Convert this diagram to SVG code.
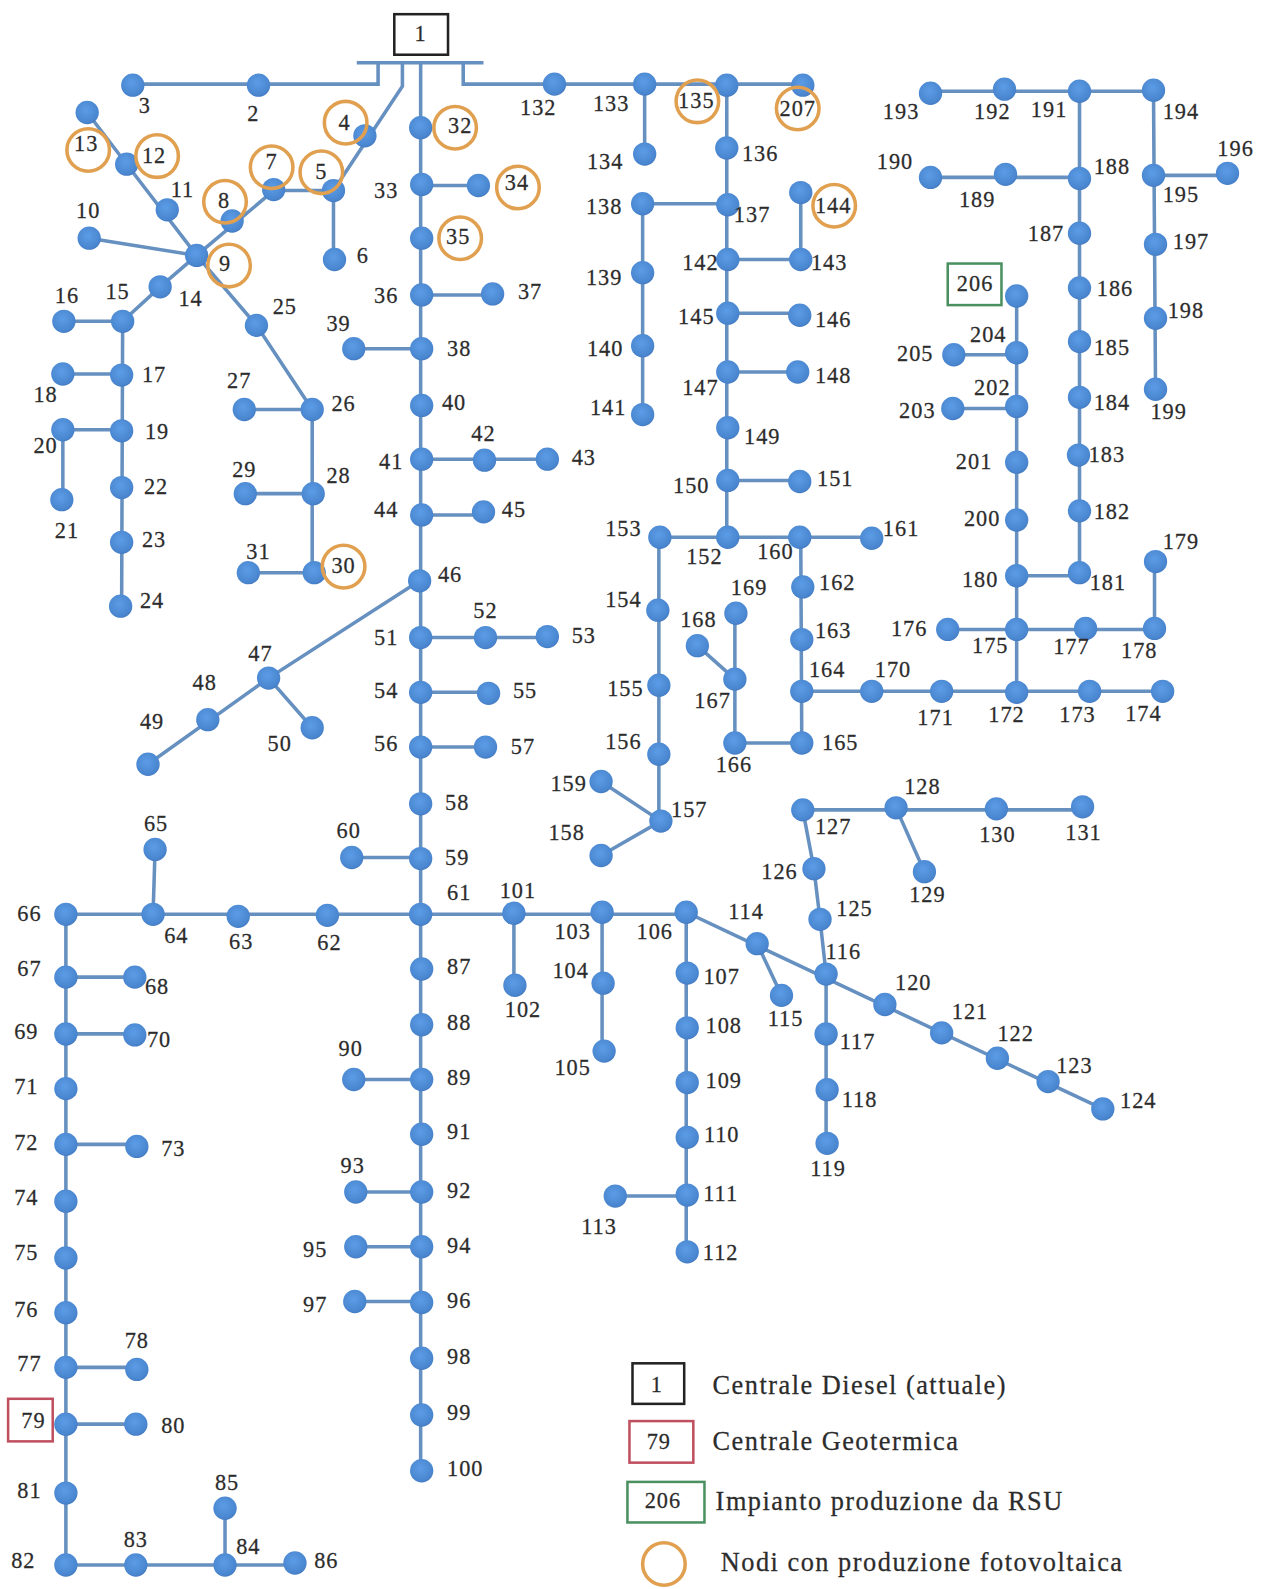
<svg xmlns="http://www.w3.org/2000/svg" width="1265" height="1589" viewBox="0 0 1265 1589">
<style>
text{font-family:"Liberation Serif","DejaVu Serif",serif;font-size:22px;fill:#2c2c2c;stroke:#2c2c2c;stroke-width:.25;text-anchor:middle;letter-spacing:1px}
.n circle{r:11.5px;fill:url(#b)}
.n circle.pv,circle.pv{fill:none;stroke:#e0a050;stroke-width:3.5;r:21px}
.box{fill:#fff;stroke-width:2.5}
.lg{text-anchor:start;font-size:26px;letter-spacing:0}
#edges path{fill:none;stroke:#6690c0;stroke-width:3.5}
</style>
<defs><radialGradient id="b" cx=".45" cy=".4" r=".65"><stop offset="0" stop-color="#5c9ce6"/><stop offset=".8" stop-color="#4a86d0"/><stop offset="1" stop-color="#3f74b8"/></radialGradient></defs>
<rect width="1265" height="1589" fill="#fff"/>
<g transform="scale(1.01362)">
<g id="edges"><path d="M352 62H477M373 62V83H131M457 62V83H792M415 62V1451M397 62V85L329 188M329 188V256M329 188H270L194 252M88 235L194 252M86 111L125 162L194 252L253 321L308 404M194 252L158 283L121 317M63 317H121M121 317L120 598M62 369H120M62 424H120M62 424V493M241 404H308M308 404V565M242 487H309M245 565H310M416 183H472M416 291H486M349 344H416M416 453H540M416 508H477M414 573L265 669L146 754M265 669L308 718M415 629H540M415 683H482M415 737H479M347 846H415M65 902H677M153 838L151 902M65 902V1544M65 964H133M65 1020H133M65 1129H135M65 1349H135M65 1405H134M65 1544H291M222 1488V1544M349 1065H416M351 1176H416M351 1230H416M350 1284H416M507 901V972M594 900V1037M677 900V1235M607 1180H678M677 900L1088 1094M747 931L771 982M815 961V1128M815 961L809 907L803 857L792 799M792 799H1068M884 797L912 860M636 83V152M717 84V530M634 201H718M634 201V409M718 256H790M790 190V256M718 309H789M718 367H787M718 474H789M651 530H860M650 530V810M593 771L652 810L593 844M790 530L791 733H725V605M725 670L688 637M791 682H1147M1003 292V683M941 350H1003M940 403H1003M935 621H1139M1139 620V554M1003 568H1065M1065 90V565M918 90H1138M918 175H1065M1138 89L1140 384M1138 173H1211"/></g>
<g id="plant1"><rect class="box" x="389" y="14" width="53" height="40" stroke="#222"/><text x="415" y="40">1</text></g>
<g id="plant79"><rect class="box" x="8" y="1380" width="44" height="42" stroke="#c05060"/></g>
<g id="plant206"><rect class="box" x="935" y="260" width="53" height="41" stroke="#4a9060"/></g>
<g id="n2" class="n"><circle cx="255" cy="84"/><text x="250" y="119">2</text></g>
<g id="n3" class="n"><circle cx="131" cy="84"/><text x="143" y="111">3</text></g>
<g id="n4" class="n"><circle cx="360" cy="134"/><text x="340" y="128">4</text><circle class="pv" cx="341" cy="121"/></g>
<g id="n5" class="n"><circle cx="329" cy="188"/><text x="317" y="177">5</text><circle class="pv" cx="317" cy="170"/></g>
<g id="n6" class="n"><circle cx="330" cy="256"/><text x="358" y="259">6</text></g>
<g id="n7" class="n"><circle cx="270" cy="187"/><text x="268" y="167">7</text><circle class="pv" cx="268" cy="165"/></g>
<g id="n8" class="n"><circle cx="229" cy="218"/><text x="221" y="205">8</text><circle class="pv" cx="222" cy="199"/></g>
<g id="n9" class="n"><circle cx="194" cy="252"/><text x="222" y="267">9</text><circle class="pv" cx="226" cy="262"/></g>
<g id="n10" class="n"><circle cx="88" cy="235"/><text x="87" y="215">10</text></g>
<g id="n11" class="n"><circle cx="165" cy="207"/><text x="180" y="194">11</text></g>
<g id="n12" class="n"><circle cx="125" cy="162"/><text x="152" y="161">12</text><circle class="pv" cx="155" cy="154"/></g>
<g id="n13" class="n"><circle cx="86" cy="111"/><text x="85" y="149">13</text><circle class="pv" cx="87" cy="148"/></g>
<g id="n14" class="n"><circle cx="158" cy="283"/><text x="188" y="302">14</text></g>
<g id="n15" class="n"><circle cx="121" cy="317"/><text x="116" y="295">15</text></g>
<g id="n16" class="n"><circle cx="63" cy="317"/><text x="66" y="299">16</text></g>
<g id="n17" class="n"><circle cx="120" cy="370"/><text x="152" y="377">17</text></g>
<g id="n18" class="n"><circle cx="62" cy="369"/><text x="45" y="397">18</text></g>
<g id="n19" class="n"><circle cx="120" cy="425"/><text x="155" y="433">19</text></g>
<g id="n20" class="n"><circle cx="62" cy="424"/><text x="45" y="447">20</text></g>
<g id="n21" class="n"><circle cx="61" cy="493"/><text x="66" y="531">21</text></g>
<g id="n22" class="n"><circle cx="120" cy="481"/><text x="154" y="487">22</text></g>
<g id="n23" class="n"><circle cx="120" cy="535"/><text x="152" y="540">23</text></g>
<g id="n24" class="n"><circle cx="119" cy="598"/><text x="150" y="600">24</text></g>
<g id="n25" class="n"><circle cx="253" cy="321"/><text x="281" y="310">25</text></g>
<g id="n26" class="n"><circle cx="308" cy="404"/><text x="339" y="405">26</text></g>
<g id="n27" class="n"><circle cx="241" cy="404"/><text x="236" y="383">27</text></g>
<g id="n28" class="n"><circle cx="309" cy="487"/><text x="334" y="477">28</text></g>
<g id="n29" class="n"><circle cx="242" cy="487"/><text x="241" y="471">29</text></g>
<g id="n30" class="n"><circle cx="310" cy="565"/><text x="339" y="565">30</text><circle class="pv" cx="339" cy="559"/></g>
<g id="n31" class="n"><circle cx="245" cy="565"/><text x="255" y="551">31</text></g>
<g id="n32" class="n"><circle cx="415" cy="126"/><text x="454" y="131">32</text><circle class="pv" cx="449" cy="126"/></g>
<g id="n33" class="n"><circle cx="416" cy="182"/><text x="381" y="195">33</text></g>
<g id="n34" class="n"><circle cx="472" cy="183"/><text x="510" y="187">34</text><circle class="pv" cx="511" cy="185"/></g>
<g id="n35" class="n"><circle cx="416" cy="235"/><text x="452" y="241">35</text><circle class="pv" cx="454" cy="235"/></g>
<g id="n36" class="n"><circle cx="416" cy="291"/><text x="381" y="299">36</text></g>
<g id="n37" class="n"><circle cx="486" cy="290"/><text x="523" y="295">37</text></g>
<g id="n38" class="n"><circle cx="416" cy="344"/><text x="453" y="351">38</text></g>
<g id="n39" class="n"><circle cx="349" cy="344"/><text x="334" y="327">39</text></g>
<g id="n40" class="n"><circle cx="416" cy="400"/><text x="448" y="404">40</text></g>
<g id="n41" class="n"><circle cx="416" cy="453"/><text x="386" y="463">41</text></g>
<g id="n42" class="n"><circle cx="478" cy="454"/><text x="477" y="435">42</text></g>
<g id="n43" class="n"><circle cx="540" cy="453"/><text x="576" y="459">43</text></g>
<g id="n44" class="n"><circle cx="416" cy="508"/><text x="381" y="510">44</text></g>
<g id="n45" class="n"><circle cx="477" cy="505"/><text x="507" y="510">45</text></g>
<g id="n46" class="n"><circle cx="414" cy="573"/><text x="444" y="574">46</text></g>
<g id="n47" class="n"><circle cx="265" cy="669"/><text x="257" y="652">47</text></g>
<g id="n48" class="n"><circle cx="205" cy="710"/><text x="202" y="681">48</text></g>
<g id="n49" class="n"><circle cx="146" cy="754"/><text x="150" y="719">49</text></g>
<g id="n50" class="n"><circle cx="308" cy="718"/><text x="276" y="741">50</text></g>
<g id="n51" class="n"><circle cx="415" cy="629"/><text x="381" y="636">51</text></g>
<g id="n52" class="n"><circle cx="479" cy="629"/><text x="479" y="610">52</text></g>
<g id="n53" class="n"><circle cx="540" cy="628"/><text x="576" y="634">53</text></g>
<g id="n54" class="n"><circle cx="415" cy="683"/><text x="381" y="689">54</text></g>
<g id="n55" class="n"><circle cx="482" cy="684"/><text x="518" y="689">55</text></g>
<g id="n56" class="n"><circle cx="415" cy="737"/><text x="381" y="741">56</text></g>
<g id="n57" class="n"><circle cx="479" cy="737"/><text x="516" y="744">57</text></g>
<g id="n58" class="n"><circle cx="415" cy="793"/><text x="451" y="799">58</text></g>
<g id="n59" class="n"><circle cx="415" cy="847"/><text x="451" y="853">59</text></g>
<g id="n60" class="n"><circle cx="347" cy="846"/><text x="344" y="827">60</text></g>
<g id="n61" class="n"><circle cx="415" cy="902"/><text x="453" y="888">61</text></g>
<g id="n62" class="n"><circle cx="323" cy="903"/><text x="325" y="937">62</text></g>
<g id="n63" class="n"><circle cx="235" cy="904"/><text x="238" y="936">63</text></g>
<g id="n64" class="n"><circle cx="151" cy="902"/><text x="174" y="930">64</text></g>
<g id="n65" class="n"><circle cx="153" cy="838"/><text x="154" y="820">65</text></g>
<g id="n66" class="n"><circle cx="65" cy="902"/><text x="29" y="909">66</text></g>
<g id="n67" class="n"><circle cx="65" cy="964"/><text x="29" y="963">67</text></g>
<g id="n68" class="n"><circle cx="133" cy="964"/><text x="155" y="981">68</text></g>
<g id="n69" class="n"><circle cx="65" cy="1020"/><text x="26" y="1025">69</text></g>
<g id="n70" class="n"><circle cx="133" cy="1021"/><text x="157" y="1033">70</text></g>
<g id="n71" class="n"><circle cx="65" cy="1074"/><text x="26" y="1079">71</text></g>
<g id="n72" class="n"><circle cx="65" cy="1129"/><text x="26" y="1135">72</text></g>
<g id="n73" class="n"><circle cx="135" cy="1131"/><text x="171" y="1140">73</text></g>
<g id="n74" class="n"><circle cx="65" cy="1185"/><text x="26" y="1189">74</text></g>
<g id="n75" class="n"><circle cx="65" cy="1241"/><text x="26" y="1243">75</text></g>
<g id="n76" class="n"><circle cx="65" cy="1295"/><text x="26" y="1299">76</text></g>
<g id="n77" class="n"><circle cx="65" cy="1349"/><text x="29" y="1353">77</text></g>
<g id="n78" class="n"><circle cx="135" cy="1351"/><text x="135" y="1330">78</text></g>
<g id="n79" class="n"><circle cx="65" cy="1405"/><text x="33" y="1409">79</text></g>
<g id="n80" class="n"><circle cx="134" cy="1405"/><text x="171" y="1414">80</text></g>
<g id="n81" class="n"><circle cx="65" cy="1473"/><text x="29" y="1478">81</text></g>
<g id="n82" class="n"><circle cx="65" cy="1544"/><text x="23" y="1547">82</text></g>
<g id="n83" class="n"><circle cx="134" cy="1544"/><text x="134" y="1526">83</text></g>
<g id="n84" class="n"><circle cx="222" cy="1544"/><text x="245" y="1533">84</text></g>
<g id="n85" class="n"><circle cx="222" cy="1488"/><text x="224" y="1470">85</text></g>
<g id="n86" class="n"><circle cx="291" cy="1542"/><text x="322" y="1547">86</text></g>
<g id="n87" class="n"><circle cx="416" cy="956"/><text x="453" y="961">87</text></g>
<g id="n88" class="n"><circle cx="416" cy="1011"/><text x="453" y="1016">88</text></g>
<g id="n89" class="n"><circle cx="416" cy="1065"/><text x="453" y="1070">89</text></g>
<g id="n90" class="n"><circle cx="349" cy="1065"/><text x="346" y="1042">90</text></g>
<g id="n91" class="n"><circle cx="416" cy="1119"/><text x="453" y="1124">91</text></g>
<g id="n92" class="n"><circle cx="416" cy="1176"/><text x="453" y="1182">92</text></g>
<g id="n93" class="n"><circle cx="351" cy="1176"/><text x="348" y="1157">93</text></g>
<g id="n94" class="n"><circle cx="416" cy="1230"/><text x="453" y="1236">94</text></g>
<g id="n95" class="n"><circle cx="351" cy="1230"/><text x="311" y="1240">95</text></g>
<g id="n96" class="n"><circle cx="416" cy="1285"/><text x="453" y="1290">96</text></g>
<g id="n97" class="n"><circle cx="350" cy="1284"/><text x="311" y="1294">97</text></g>
<g id="n98" class="n"><circle cx="416" cy="1340"/><text x="453" y="1346">98</text></g>
<g id="n99" class="n"><circle cx="416" cy="1396"/><text x="453" y="1401">99</text></g>
<g id="n100" class="n"><circle cx="416" cy="1451"/><text x="459" y="1456">100</text></g>
<g id="n101" class="n"><circle cx="507" cy="901"/><text x="511" y="886">101</text></g>
<g id="n102" class="n"><circle cx="508" cy="972"/><text x="516" y="1003">102</text></g>
<g id="n103" class="n"><circle cx="594" cy="900"/><text x="565" y="926">103</text></g>
<g id="n104" class="n"><circle cx="595" cy="970"/><text x="563" y="965">104</text></g>
<g id="n105" class="n"><circle cx="596" cy="1037"/><text x="565" y="1061">105</text></g>
<g id="n106" class="n"><circle cx="677" cy="900"/><text x="646" y="926">106</text></g>
<g id="n107" class="n"><circle cx="678" cy="960"/><text x="712" y="971">107</text></g>
<g id="n108" class="n"><circle cx="678" cy="1014"/><text x="714" y="1019">108</text></g>
<g id="n109" class="n"><circle cx="678" cy="1068"/><text x="714" y="1073">109</text></g>
<g id="n110" class="n"><circle cx="678" cy="1122"/><text x="712" y="1127">110</text></g>
<g id="n111" class="n"><circle cx="678" cy="1179"/><text x="711" y="1185">111</text></g>
<g id="n112" class="n"><circle cx="678" cy="1235"/><text x="711" y="1243">112</text></g>
<g id="n113" class="n"><circle cx="607" cy="1180"/><text x="591" y="1217">113</text></g>
<g id="n114" class="n"><circle cx="747" cy="931"/><text x="736" y="907">114</text></g>
<g id="n115" class="n"><circle cx="771" cy="982"/><text x="775" y="1012">115</text></g>
<g id="n116" class="n"><circle cx="815" cy="961"/><text x="832" y="946">116</text></g>
<g id="n117" class="n"><circle cx="815" cy="1020"/><text x="846" y="1035">117</text></g>
<g id="n118" class="n"><circle cx="816" cy="1075"/><text x="848" y="1092">118</text></g>
<g id="n119" class="n"><circle cx="816" cy="1128"/><text x="817" y="1160">119</text></g>
<g id="n120" class="n"><circle cx="873" cy="991"/><text x="901" y="977">120</text></g>
<g id="n121" class="n"><circle cx="929" cy="1019"/><text x="957" y="1005">121</text></g>
<g id="n122" class="n"><circle cx="984" cy="1044"/><text x="1002" y="1027">122</text></g>
<g id="n123" class="n"><circle cx="1034" cy="1067"/><text x="1060" y="1059">123</text></g>
<g id="n124" class="n"><circle cx="1088" cy="1094"/><text x="1123" y="1093">124</text></g>
<g id="n125" class="n"><circle cx="809" cy="907"/><text x="843" y="904">125</text></g>
<g id="n126" class="n"><circle cx="803" cy="857"/><text x="769" y="867">126</text></g>
<g id="n127" class="n"><circle cx="792" cy="799"/><text x="822" y="823">127</text></g>
<g id="n128" class="n"><circle cx="884" cy="797"/><text x="910" y="783">128</text></g>
<g id="n129" class="n"><circle cx="912" cy="860"/><text x="915" y="890">129</text></g>
<g id="n130" class="n"><circle cx="983" cy="798"/><text x="984" y="831">130</text></g>
<g id="n131" class="n"><circle cx="1068" cy="796"/><text x="1069" y="829">131</text></g>
<g id="n132" class="n"><circle cx="547" cy="83"/><text x="531" y="113">132</text></g>
<g id="n133" class="n"><circle cx="636" cy="83"/><text x="603" y="110">133</text></g>
<g id="n134" class="n"><circle cx="636" cy="152"/><text x="597" y="167">134</text></g>
<g id="n135" class="n"><circle cx="717" cy="84"/><text x="687" y="107">135</text><circle class="pv" cx="688" cy="100"/></g>
<g id="n136" class="n"><circle cx="717" cy="146"/><text x="750" y="159">136</text></g>
<g id="n137" class="n"><circle cx="718" cy="202"/><text x="742" y="219">137</text></g>
<g id="n138" class="n"><circle cx="634" cy="201"/><text x="596" y="211">138</text></g>
<g id="n139" class="n"><circle cx="634" cy="269"/><text x="596" y="281">139</text></g>
<g id="n140" class="n"><circle cx="634" cy="341"/><text x="597" y="351">140</text></g>
<g id="n141" class="n"><circle cx="634" cy="409"/><text x="600" y="409">141</text></g>
<g id="n142" class="n"><circle cx="718" cy="256"/><text x="691" y="266">142</text></g>
<g id="n143" class="n"><circle cx="790" cy="256"/><text x="818" y="266">143</text></g>
<g id="n144" class="n"><circle cx="790" cy="190"/><text x="822" y="210">144</text><circle class="pv" cx="823" cy="203"/></g>
<g id="n145" class="n"><circle cx="718" cy="309"/><text x="687" y="320">145</text></g>
<g id="n146" class="n"><circle cx="789" cy="311"/><text x="822" y="323">146</text></g>
<g id="n147" class="n"><circle cx="718" cy="367"/><text x="691" y="390">147</text></g>
<g id="n148" class="n"><circle cx="787" cy="367"/><text x="822" y="378">148</text></g>
<g id="n149" class="n"><circle cx="718" cy="422"/><text x="752" y="438">149</text></g>
<g id="n150" class="n"><circle cx="718" cy="474"/><text x="682" y="486">150</text></g>
<g id="n151" class="n"><circle cx="789" cy="475"/><text x="824" y="479">151</text></g>
<g id="n152" class="n"><circle cx="718" cy="530"/><text x="695" y="556">152</text></g>
<g id="n153" class="n"><circle cx="651" cy="530"/><text x="615" y="529">153</text></g>
<g id="n154" class="n"><circle cx="649" cy="602"/><text x="615" y="599">154</text></g>
<g id="n155" class="n"><circle cx="650" cy="676"/><text x="617" y="687">155</text></g>
<g id="n156" class="n"><circle cx="650" cy="744"/><text x="615" y="739">156</text></g>
<g id="n157" class="n"><circle cx="652" cy="810"/><text x="680" y="806">157</text></g>
<g id="n158" class="n"><circle cx="593" cy="844"/><text x="559" y="829">158</text></g>
<g id="n159" class="n"><circle cx="593" cy="771"/><text x="561" y="780">159</text></g>
<g id="n160" class="n"><circle cx="789" cy="530"/><text x="765" y="551">160</text></g>
<g id="n161" class="n"><circle cx="860" cy="531"/><text x="889" y="529">161</text></g>
<g id="n162" class="n"><circle cx="792" cy="579"/><text x="826" y="582">162</text></g>
<g id="n163" class="n"><circle cx="791" cy="631"/><text x="822" y="629">163</text></g>
<g id="n164" class="n"><circle cx="791" cy="682"/><text x="816" y="668">164</text></g>
<g id="n165" class="n"><circle cx="791" cy="733"/><text x="829" y="740">165</text></g>
<g id="n166" class="n"><circle cx="725" cy="733"/><text x="724" y="762">166</text></g>
<g id="n167" class="n"><circle cx="725" cy="670"/><text x="703" y="698">167</text></g>
<g id="n168" class="n"><circle cx="688" cy="637"/><text x="689" y="619">168</text></g>
<g id="n169" class="n"><circle cx="726" cy="605"/><text x="739" y="587">169</text></g>
<g id="n170" class="n"><circle cx="860" cy="682"/><text x="881" y="668">170</text></g>
<g id="n171" class="n"><circle cx="929" cy="682"/><text x="923" y="715">171</text></g>
<g id="n172" class="n"><circle cx="1003" cy="683"/><text x="993" y="712">172</text></g>
<g id="n173" class="n"><circle cx="1075" cy="682"/><text x="1063" y="712">173</text></g>
<g id="n174" class="n"><circle cx="1147" cy="682"/><text x="1128" y="711">174</text></g>
<g id="n175" class="n"><circle cx="1003" cy="621"/><text x="977" y="644">175</text></g>
<g id="n176" class="n"><circle cx="935" cy="621"/><text x="897" y="627">176</text></g>
<g id="n177" class="n"><circle cx="1071" cy="620"/><text x="1057" y="645">177</text></g>
<g id="n178" class="n"><circle cx="1139" cy="620"/><text x="1124" y="649">178</text></g>
<g id="n179" class="n"><circle cx="1140" cy="554"/><text x="1165" y="542">179</text></g>
<g id="n180" class="n"><circle cx="1003" cy="568"/><text x="967" y="579">180</text></g>
<g id="n181" class="n"><circle cx="1065" cy="565"/><text x="1093" y="582">181</text></g>
<g id="n182" class="n"><circle cx="1065" cy="504"/><text x="1097" y="512">182</text></g>
<g id="n183" class="n"><circle cx="1064" cy="449"/><text x="1092" y="456">183</text></g>
<g id="n184" class="n"><circle cx="1065" cy="392"/><text x="1097" y="404">184</text></g>
<g id="n185" class="n"><circle cx="1065" cy="337"/><text x="1097" y="350">185</text></g>
<g id="n186" class="n"><circle cx="1065" cy="284"/><text x="1100" y="292">186</text></g>
<g id="n187" class="n"><circle cx="1065" cy="230"/><text x="1032" y="238">187</text></g>
<g id="n188" class="n"><circle cx="1065" cy="176"/><text x="1097" y="172">188</text></g>
<g id="n189" class="n"><circle cx="992" cy="172"/><text x="964" y="204">189</text></g>
<g id="n190" class="n"><circle cx="918" cy="175"/><text x="883" y="167">190</text></g>
<g id="n191" class="n"><circle cx="1065" cy="90"/><text x="1035" y="115">191</text></g>
<g id="n192" class="n"><circle cx="991" cy="88"/><text x="979" y="117">192</text></g>
<g id="n193" class="n"><circle cx="918" cy="92"/><text x="889" y="117">193</text></g>
<g id="n194" class="n"><circle cx="1138" cy="89"/><text x="1165" y="117">194</text></g>
<g id="n195" class="n"><circle cx="1138" cy="173"/><text x="1165" y="199">195</text></g>
<g id="n196" class="n"><circle cx="1211" cy="171"/><text x="1219" y="154">196</text></g>
<g id="n197" class="n"><circle cx="1140" cy="241"/><text x="1175" y="246">197</text></g>
<g id="n198" class="n"><circle cx="1140" cy="314"/><text x="1170" y="314">198</text></g>
<g id="n199" class="n"><circle cx="1140" cy="384"/><text x="1153" y="413">199</text></g>
<g id="n200" class="n"><circle cx="1003" cy="513"/><text x="969" y="519">200</text></g>
<g id="n201" class="n"><circle cx="1003" cy="456"/><text x="961" y="463">201</text></g>
<g id="n202" class="n"><circle cx="1003" cy="401"/><text x="979" y="390">202</text></g>
<g id="n203" class="n"><circle cx="940" cy="403"/><text x="905" y="412">203</text></g>
<g id="n204" class="n"><circle cx="1003" cy="348"/><text x="975" y="337">204</text></g>
<g id="n205" class="n"><circle cx="941" cy="350"/><text x="903" y="356">205</text></g>
<g id="n206" class="n"><circle cx="1003" cy="292"/><text x="962" y="287">206</text></g>
<g id="n207" class="n"><circle cx="792" cy="84"/><text x="787" y="114">207</text><circle class="pv" cx="787" cy="107"/></g>
<g id="legend">
<rect class="box" x="624" y="1345" width="51" height="40" stroke="#222"/><text x="648" y="1373">1</text>
<rect class="box" x="621" y="1402" width="63" height="41" stroke="#c05060"/><text x="650" y="1430">79</text>
<rect class="box" x="619" y="1462" width="76" height="40" stroke="#4a9060"/><text x="654" y="1488">206</text>
<circle class="pv" cx="655" cy="1543"/>
<text class="lg" x="703" y="1375" textLength="289">Centrale Diesel (attuale)</text>
<text class="lg" x="703" y="1431" textLength="242">Centrale Geotermica</text>
<text class="lg" x="706" y="1490" textLength="342">Impianto produzione da RSU</text>
<text class="lg" x="711" y="1550" textLength="396">Nodi con produzione fotovoltaica</text>
</g>
</g>
</svg>
